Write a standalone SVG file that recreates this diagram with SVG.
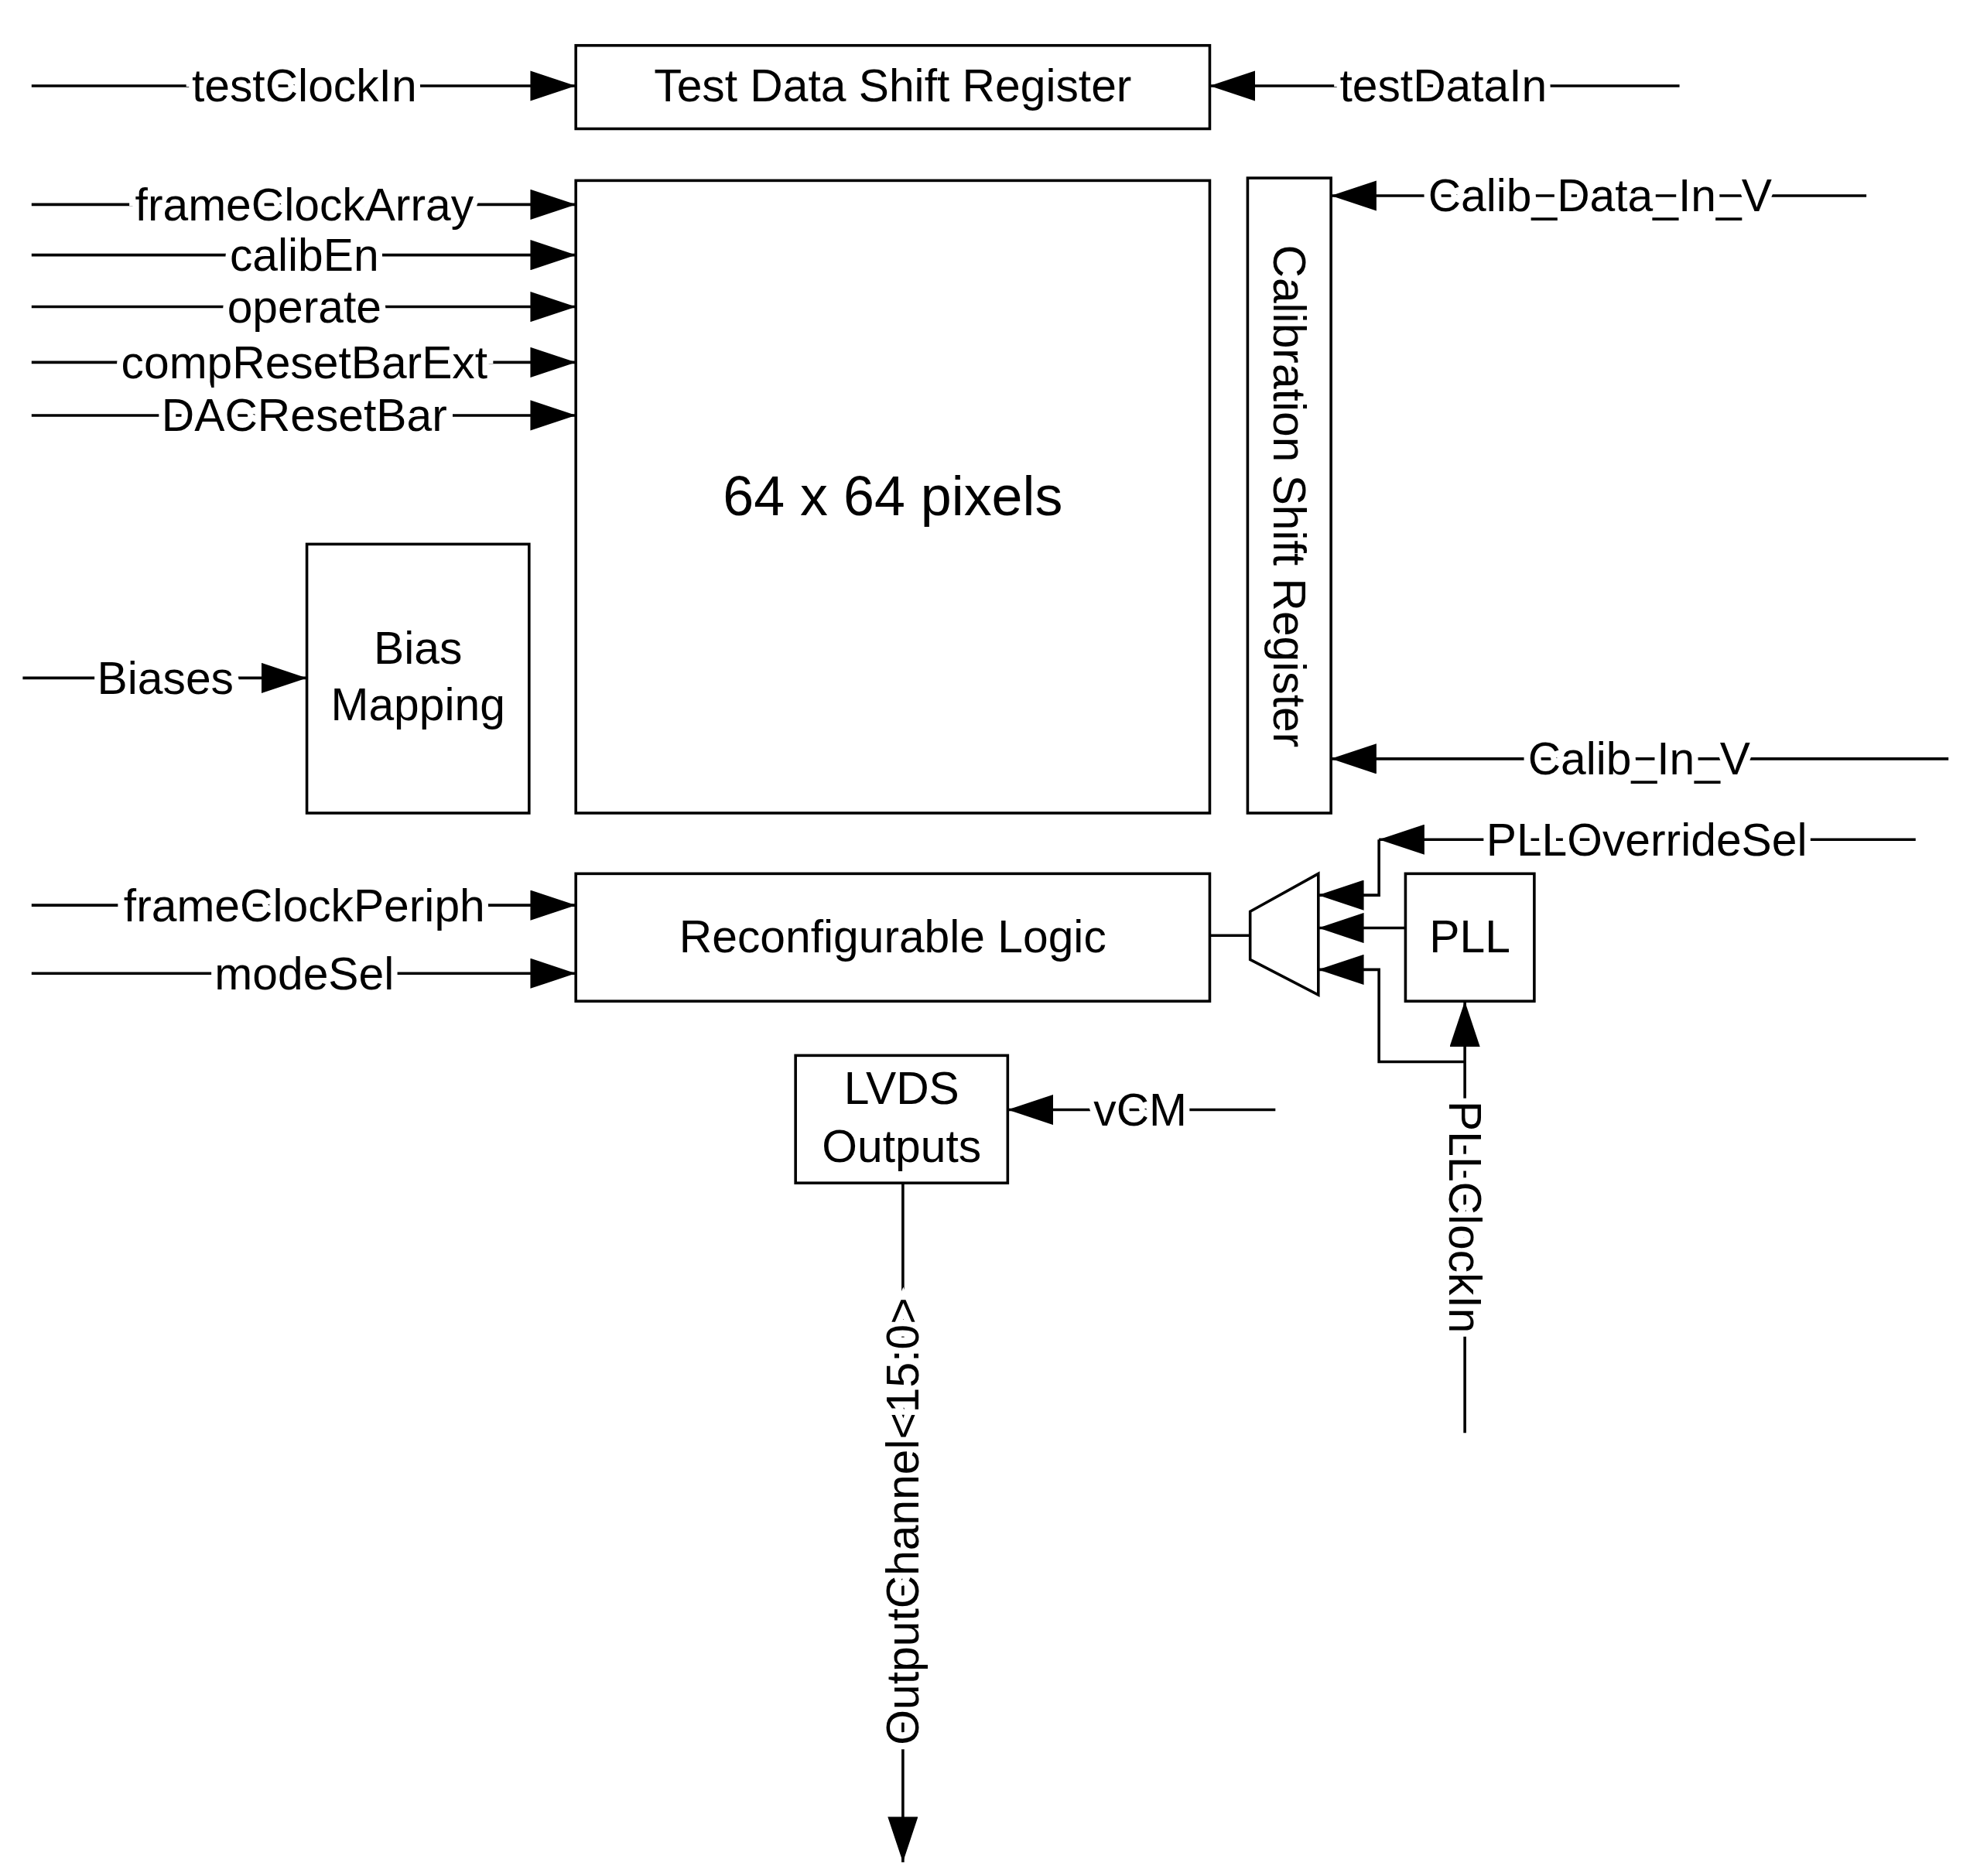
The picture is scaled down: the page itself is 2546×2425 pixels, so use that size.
<svg xmlns="http://www.w3.org/2000/svg" width="2546" height="2425" viewBox="0 0 2546 2425">
<style>
.b{fill:#fff;stroke:#000;stroke-width:2.2}
.w{fill:none;stroke:#000;stroke-width:2.2}
.a{fill:none;stroke:#000;stroke-width:2.2;marker-end:url(#ah)}
text{font-family:"Liberation Sans",Arial,sans-serif;font-size:36px;fill:#000;text-anchor:middle;dominant-baseline:central}
.l{stroke:#fff;stroke-width:10;paint-order:stroke}
.big{font-size:44px}
</style>
<defs>
<marker id="ah" viewBox="-36 -12 36 24" refX="0" refY="0" markerWidth="36" markerHeight="24" markerUnits="userSpaceOnUse" orient="auto">
<path d="M0,0 L-36,-12 L-36,12 Z" fill="#000"/>
</marker>
</defs>
<rect width="2546" height="2425" fill="#fff"/>
<g transform="scale(1.632)">
<g id="connectors">
<path class="a" d="M25,68 H456"/>
<path class="a" d="M1330,68 H958"/>
<path class="a" d="M25,162 H456"/>
<path class="a" d="M25,202 H456"/>
<path class="a" d="M25,243 H456"/>
<path class="a" d="M25,287 H456"/>
<path class="a" d="M25,329 H456"/>
<path class="a" d="M18,537 H243"/>
<path class="a" d="M1478,155 H1054"/>
<path class="a" d="M1543,601 H1054"/>
<path class="a" d="M25,717 H456"/>
<path class="a" d="M25,771 H456"/>
<path class="w" d="M958,741 H990"/>
<path class="a" d="M1517,665 H1092"/>
<path class="a" d="M1092,665 V709 H1044"/>
<path class="a" d="M1113,735 H1044"/>
<path class="a" d="M1160,841 H1092 V768 H1044"/>
<path class="a" d="M1160,1135 V793"/>
<path class="a" d="M1010,879 H798"/>
<path class="a" d="M715,937 V1475"/>
<text class="l" x="241" y="68">testClockIn</text>
<text class="l" x="1143" y="68">testDataIn</text>
<text class="l" x="241" y="162">frameClockArray</text>
<text class="l" x="241" y="202">calibEn</text>
<text class="l" x="241" y="243">operate</text>
<text class="l" x="241" y="287">compResetBarExt</text>
<text class="l" x="241" y="329">DACResetBar</text>
<text class="l" x="131" y="537">Biases</text>
<text class="l" x="1267" y="155">Calib_Data_In_V</text>
<text class="l" x="1298" y="601">Calib_In_V</text>
<text class="l" x="241" y="717">frameClockPeriph</text>
<text class="l" x="241" y="771">modeSel</text>
<text class="l" x="1304" y="665">PLLOverrideSel</text>
<text class="l" x="903" y="879">vCM</text>
<text class="l" transform="translate(1160,964) rotate(90)">PLLClockIn</text>
<text class="l" transform="translate(715,1205) rotate(-90)">OutputChannel&lt;15:0&gt;</text>
</g>
<g id="testDataShiftRegister"><rect class="b" x="456" y="36" width="502" height="66"/><text x="707" y="68">Test Data Shift Register</text></g>
<g id="pixelArray"><rect class="b" x="456" y="143" width="502" height="501"/><text class="big" x="707" y="393">64 x 64 pixels</text></g>
<g id="calibShiftRegister"><rect class="b" x="988" y="141" width="66" height="503"/><text transform="translate(1021,393) rotate(90)">Calibration Shift Register</text></g>
<g id="biasMapping"><rect class="b" x="243" y="431" width="176" height="213"/><text x="331" y="513">Bias</text><text x="331" y="558">Mapping</text></g>
<g id="reconfigurableLogic"><rect class="b" x="456" y="692" width="502" height="101"/><text x="707" y="742">Reconfigurable Logic</text></g>
<g id="mux"><path class="b" d="M990,722 L1044,692 V788 L990,760 Z"/></g>
<g id="pll"><rect class="b" x="1113" y="692" width="102" height="101"/><text x="1164" y="742">PLL</text></g>
<g id="lvdsOutputs"><rect class="b" x="630" y="836" width="168" height="101"/><text x="714" y="862">LVDS</text><text x="714" y="908">Outputs</text></g>
</g>
</svg>
